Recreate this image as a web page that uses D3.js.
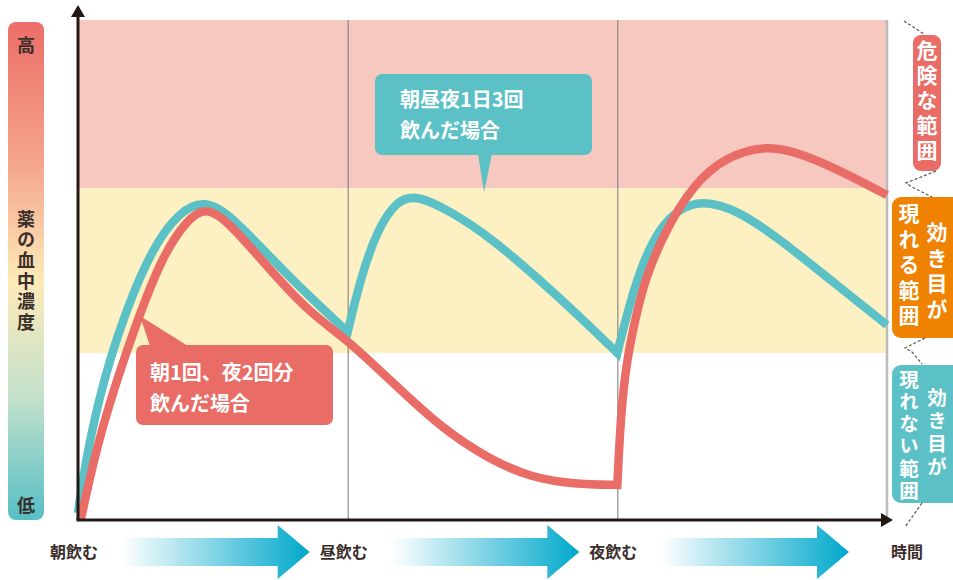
<!DOCTYPE html>
<html>
<head>
<meta charset="utf-8">
<script src="https://cdn.jsdelivr.net/npm/d3@7/dist/d3.min.js"></script>
<style>
  body { margin: 0; background: #fff; }
  svg { display: block; font-family: "Noto Sans CJK JP", sans-serif; }
</style>
</head>
<body>
<svg id="chart" width="953" height="580"></svg>
<script>
// time: 0 = morning dose, 1 = noon, 2 = evening, 3 = end
const timeLabels = ['朝飲む', '昼飲む', '夜飲む', '時間'];
const timeTicks = [0, 1, 2, 3];
// blood concentration bands (0-100)
const bandLimits = [0, 33.4, 66.4, 100];
const bandNames = ['効き目が現れない範囲', '効き目が現れる範囲', '危険な範囲'];

// three doses a day, one piece per dosing interval
const tealSegments = [
  [[0, 1.4], [0.026, 11.4], [0.093, 28], [0.182, 42.6], [0.278, 54.6], [0.378, 61.8],
    [0.471, 64], [0.564, 61], [0.712, 52.6], [0.86, 44.6], [1, 37.6]],
  [[1, 37.6], [1.046, 48], [1.109, 58], [1.183, 64], [1.257, 65], [1.379, 61.8],
    [1.528, 56.6], [1.713, 48], [1.862, 40.6], [2, 33.4]],
  [[2, 33.4], [2.058, 46], [2.132, 56.6], [2.221, 62.2], [2.318, 64], [2.444, 62],
    [2.592, 56.6], [2.777, 48.6], [3, 39]],
];

// morning once, evening double dose
const redSegments = [
  [[0.01, 0], [0.082, 18], [0.219, 40], [0.315, 53], [0.404, 60], [0.471, 62.6],
    [0.553, 60], [0.712, 50], [0.86, 41.4], [1, 36], [1.157, 28], [1.342, 18.6],
    [1.528, 12], [1.687, 8.4], [1.836, 7.2], [2, 7]],
  [[2, 7], [2.013, 21.4], [2.036, 32.6], [2.077, 42.6], [2.103, 48], [2.169, 57],
    [2.281, 67.2], [2.407, 72.8], [2.555, 75], [2.688, 73.2], [2.837, 69.6], [3, 65]],
];

const tealLabel = ['朝昼夜1日3回', '飲んだ場合'];
const redLabel = ['朝1回、夜2回分', '飲んだ場合'];

const TEAL = '#5bc1c6';
const RED = '#e96c66';
const ORANGE = '#ef8200';
const bandColors = ['#ffffff', '#fdf0c3', '#f6c8bf'];

const paddingLeft = 78;
const paddingRight = 66;
const paddingTop = 20;
const paddingBottom = 60;
const width = 953;
const height = 580;

const svg = d3.select('#chart');

const xScale = d3.scaleLinear()
  .domain([0, 3])
  .range([paddingLeft, width - paddingRight]);
const yScale = d3.scaleLinear()
  .domain([0, 100])
  .range([height - paddingBottom, paddingTop]);

function drawBands() {
  svg.append('g')
    .selectAll('rect')
    .data(bandNames)
    .join('rect')
    .attr('x', xScale(0))
    .attr('width', xScale(3) - xScale(0))
    .attr('y', (d, i) => yScale(bandLimits[i + 1]))
    .attr('height', (d, i) => yScale(bandLimits[i]) - yScale(bandLimits[i + 1]))
    .attr('fill', (d, i) => bandColors[i]);
}

function drawGrid() {
  const grid = d3.axisBottom(xScale)
    .tickValues([1, 2])
    .tickSize(-(yScale(0) - yScale(100)))
    .tickFormat('');
  const g = svg.append('g')
    .attr('transform', `translate(0, ${yScale(0)})`)
    .call(grid);
  g.select('.domain').remove();
  g.selectAll('line').attr('stroke', '#777').attr('stroke-width', 1);
  svg.append('line')
    .attr('x1', xScale(3)).attr('x2', xScale(3))
    .attr('y1', yScale(100)).attr('y2', yScale(0))
    .attr('stroke', '#bbb')
    .attr('stroke-width', 2.5);
}

function drawAxis() {
  const x0 = xScale(0);
  const y0 = yScale(0);
  svg.append('line')
    .attr('x1', x0).attr('x2', x0)
    .attr('y1', y0).attr('y2', 14)
    .attr('stroke', '#231815').attr('stroke-width', 3);
  svg.append('line')
    .attr('x1', x0 - 1.5).attr('x2', xScale(3) + 2)
    .attr('y1', y0).attr('y2', y0)
    .attr('stroke', '#231815').attr('stroke-width', 3);
  svg.append('path')
    .attr('d', `M${x0},5 L${x0 + 7},17 L${x0 - 7},17 Z`)
    .attr('fill', '#231815');
  const xe = xScale(3) + 6;
  svg.append('path')
    .attr('d', `M${xe},${y0} L${xe - 12},${y0 - 7} L${xe - 12},${y0 + 7} Z`)
    .attr('fill', '#231815');
}

function drawCurve(segments, color) {
  const line = d3.line()
    .x((d) => xScale(d[0]))
    .y((d) => yScale(d[1]))
    .curve(d3.curveBasis);
  // joined pieces so the dose moments stay sharp corners
  const d = segments
    .map((s, i) => (i === 0 ? line(s) : line(s).replace(/^M[^A-Z]*/, '')))
    .join('');
  svg.append('path')
    .attr('d', d)
    .attr('fill', 'none')
    .attr('stroke', color)
    .attr('stroke-width', 8.5)
    .attr('stroke-linejoin', 'miter')
    .attr('stroke-linecap', 'butt');
}

function drawCallout(lines, color, box, pointer, textX, textY) {
  const g = svg.append('g');
  g.append('rect')
    .attr('x', box[0]).attr('y', box[1])
    .attr('width', box[2]).attr('height', box[3])
    .attr('rx', 7)
    .attr('fill', color);
  g.append('path')
    .attr('d', `M${pointer[0]}L${pointer[1]}L${pointer[2]}Z`)
    .attr('fill', color);
  g.append('text')
    .attr('fill', '#fff')
    .attr('font-size', 20)
    .attr('font-weight', 700)
    .selectAll('tspan')
    .data(lines)
    .join('tspan')
    .attr('x', textX)
    .attr('y', (d, i) => textY + i * 31)
    .text((d) => d);
}

function drawConcentrationBar() {
  const defs = svg.append('defs');
  const grad = defs.append('linearGradient')
    .attr('id', 'concGrad')
    .attr('x1', 0).attr('x2', 0).attr('y1', 0).attr('y2', 1);
  [['0%', '#ec6e68'], ['28%', '#f4a489'], ['52%', '#fdeab9'], ['75%', '#c4e1cb'], ['100%', '#56bfc6']]
    .forEach(([o, c]) => grad.append('stop').attr('offset', o).attr('stop-color', c));
  svg.append('rect')
    .attr('x', 8).attr('y', 22)
    .attr('width', 36).attr('height', yScale(0) - 22)
    .attr('rx', 8)
    .attr('fill', 'url(#concGrad)');
  svg.append('text')
    .attr('x', 26).attr('y', 52)
    .attr('text-anchor', 'middle')
    .attr('font-size', 18).attr('font-weight', 700).attr('fill', '#3a2e2a')
    .text('高');
  svg.append('text')
    .attr('x', 26).attr('y', 512)
    .attr('text-anchor', 'middle')
    .attr('font-size', 18).attr('font-weight', 700).attr('fill', '#3a2e2a')
    .text('低');
  verticalText('薬の血中濃度', 26, 210, 18, 2.6, '#3a2e2a');
}

function verticalText(str, x, y, size, spacing, color) {
  svg.append('text')
    .attr('x', x).attr('y', y)
    .style('writing-mode', 'vertical-rl')
    .style('text-orientation', 'upright')
    .attr('font-size', size)
    .attr('font-weight', 700)
    .attr('letter-spacing', spacing)
    .attr('fill', color)
    .text(str);
}

function drawRangeLabels() {
  // 危険な範囲
  svg.append('rect')
    .attr('x', 913).attr('y', 35).attr('width', 28).attr('height', 136)
    .attr('rx', 8).attr('fill', RED);
  verticalText('危険な範囲', 927, 40, 21, 4, '#fff');
  // 効き目が現れる範囲
  svg.append('rect')
    .attr('x', 892).attr('y', 197).attr('width', 80).attr('height', 141)
    .attr('rx', 9).attr('fill', ORANGE);
  verticalText('現れる範囲', 909, 203, 21, 4.5, '#fff');
  verticalText('効き目が', 937, 222, 21, 4.5, '#fff');
  // 効き目が現れない範囲
  svg.append('rect')
    .attr('x', 892).attr('y', 365).attr('width', 80).attr('height', 138)
    .attr('rx', 9).attr('fill', TEAL);
  verticalText('現れない範囲', 909, 370, 19.5, 2.6, '#fff');
  verticalText('効き目が', 937, 388, 19.5, 3.5, '#fff');

  const dash = [
    [[904, 21], [924, 34]],
    [[936, 171], [906, 183], [912, 187], [932, 197]],
    [[925, 338], [905, 348], [912, 352], [922, 364]],
    [[922, 503], [905, 527]],
  ];
  svg.append('g')
    .selectAll('path')
    .data(dash)
    .join('path')
    .attr('d', (d) => d3.line()(d))
    .attr('fill', 'none')
    .attr('stroke', '#555')
    .attr('stroke-width', 1.2)
    .attr('stroke-dasharray', '3,2');
}

function drawTimeline() {
  const defs = svg.select('defs');
  const grad = defs.append('linearGradient')
    .attr('id', 'arrowGrad')
    .attr('x1', 0).attr('x2', 1).attr('y1', 0).attr('y2', 0);
  grad.append('stop').attr('offset', '0%').attr('stop-color', '#00a8cb').attr('stop-opacity', 0);
  grad.append('stop').attr('offset', '100%').attr('stop-color', '#00a8cb').attr('stop-opacity', 1);
  const cy = 552;
  svg.append('g')
    .selectAll('path')
    .data(timeTicks.slice(0, 3))
    .join('path')
    .attr('d', (t) => {
      const s = xScale(t) + 44;
      const tip = xScale(t + 1) - 38;
      const h = tip - 32;
      return `M${s},${cy - 14}L${h},${cy - 14}L${h},${cy - 27}L${tip},${cy}` +
        `L${h},${cy + 27}L${h},${cy + 14}L${s},${cy + 14}Z`;
    })
    .attr('fill', 'url(#arrowGrad)');
  svg.append('g')
    .selectAll('text')
    .data(timeLabels)
    .join('text')
    .attr('x', (d, i) => (i < 3 ? xScale(timeTicks[i]) - 4 : xScale(timeTicks[i]) + 20))
    .attr('y', cy + 6)
    .attr('text-anchor', 'middle')
    .attr('font-size', 16)
    .attr('font-weight', 700)
    .attr('fill', '#3a2e2a')
    .text((d) => d);
}

drawBands();
drawGrid();
drawCurve(tealSegments, TEAL);
drawCurve(redSegments, RED);
drawAxis();
drawCallout(tealLabel, TEAL, [375, 74, 217, 81], [[478, 154], [492, 154], [484, 192]], 400, 107);
drawCallout(redLabel, RED, [136, 345, 197, 80], [[150, 346], [188, 346], [140, 316]], 150, 380);
drawConcentrationBar();
drawRangeLabels();
drawTimeline();
</script>
</body>
</html>
